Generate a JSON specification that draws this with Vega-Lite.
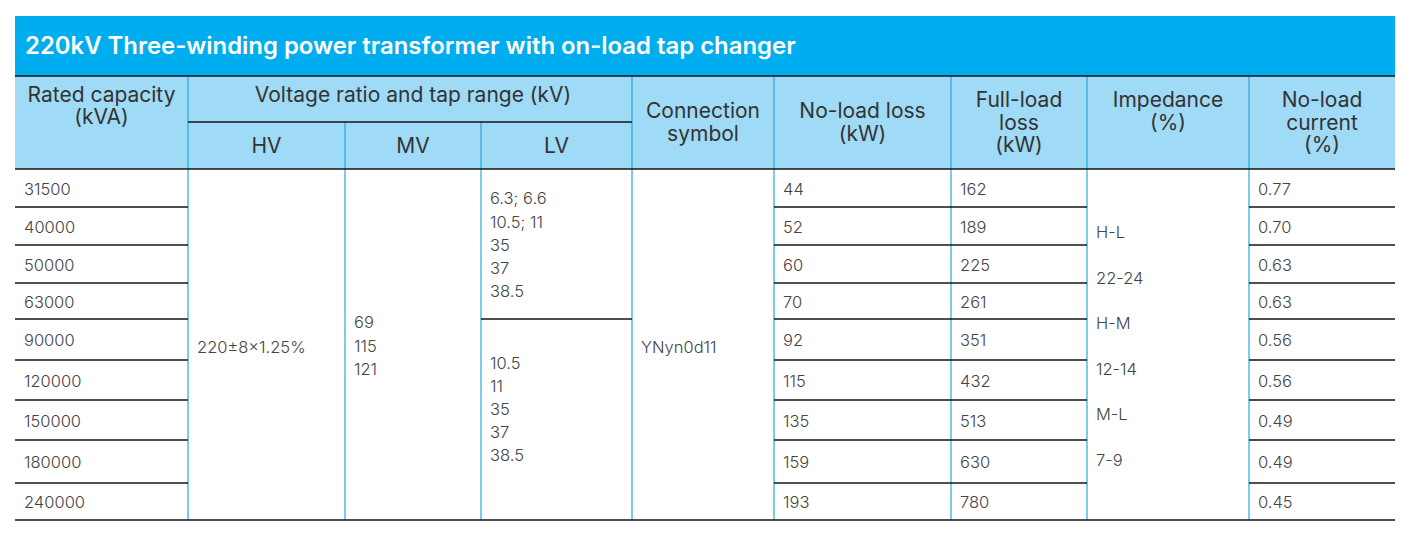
{
  "$schema": "https://vega.github.io/schema/vega-lite/v6.json",
  "width": 1417,
  "height": 538,
  "padding": 0,
  "autosize": {"type": "none"},
  "background": "white",
  "config": {"view": {"stroke": null}},
  "datasets": {
    "fills": [
      {"c0": 0, "c1": 9, "r0": -3, "r1": -2, "kind": "title"},
      {"c0": 0, "c1": 9, "r0": -2, "r1": 0, "kind": "header"}
    ],
    "vlines": [
      {"c": 1, "r0": -2, "r1": 9},
      {"c": 2, "r0": -1, "r1": 9},
      {"c": 3, "r0": -1, "r1": 9},
      {"c": 4, "r0": -2, "r1": 9},
      {"c": 5, "r0": -2, "r1": 9},
      {"c": 6, "r0": -2, "r1": 9},
      {"c": 7, "r0": -2, "r1": 9},
      {"c": 8, "r0": -2, "r1": 9}
    ],
    "hlines": [
      {"r": -2, "c0": 0, "c1": 9},
      {"r": -1, "c0": 1, "c1": 4},
      {"r": 0, "c0": 0, "c1": 9},
      {"r": 9, "c0": 0, "c1": 9},
      {"r": 4, "c0": 3, "c1": 4},
      {"r": 1, "c0": 0, "c1": 1}, {"r": 2, "c0": 0, "c1": 1}, {"r": 3, "c0": 0, "c1": 1}, {"r": 4, "c0": 0, "c1": 1},
      {"r": 5, "c0": 0, "c1": 1}, {"r": 6, "c0": 0, "c1": 1}, {"r": 7, "c0": 0, "c1": 1}, {"r": 8, "c0": 0, "c1": 1},
      {"r": 1, "c0": 5, "c1": 7}, {"r": 2, "c0": 5, "c1": 7}, {"r": 3, "c0": 5, "c1": 7}, {"r": 4, "c0": 5, "c1": 7},
      {"r": 5, "c0": 5, "c1": 7}, {"r": 6, "c0": 5, "c1": 7}, {"r": 7, "c0": 5, "c1": 7}, {"r": 8, "c0": 5, "c1": 7},
      {"r": 1, "c0": 8, "c1": 9}, {"r": 2, "c0": 8, "c1": 9}, {"r": 3, "c0": 8, "c1": 9}, {"r": 4, "c0": 8, "c1": 9},
      {"r": 5, "c0": 8, "c1": 9}, {"r": 6, "c0": 8, "c1": 9}, {"r": 7, "c0": 8, "c1": 9}, {"r": 8, "c0": 8, "c1": 9}
    ],
    "title": [
      {"c": 0, "r": -2.5, "t": "220kV Three-winding power transformer with on-load tap changer"}
    ],
    "header": [
      {"c": 0.5, "r": -1.6, "t": "Rated capacity\n(kVA)"},
      {"c": 2.5, "r": -1.6, "t": "Voltage ratio and tap range (kV)"},
      {"c": 1.5, "r": -0.5, "t": "HV"},
      {"c": 2.5, "r": -0.5, "t": "MV"},
      {"c": 3.5, "r": -0.5, "t": "LV"},
      {"c": 4.5, "r": -1.24, "t": "Connection\nsymbol"},
      {"c": 5.5, "r": -1.24, "t": "No-load loss\n(kW)"},
      {"c": 6.5, "r": -1.48, "t": "Full-load\nloss\n(kW)"},
      {"c": 7.5, "r": -1.48, "t": "Impedance\n(%)"},
      {"c": 8.5, "r": -1.48, "t": "No-load\ncurrent\n(%)"}
    ],
    "body": [
      {"c": 0, "r": 0.5, "t": "31500"},
      {"c": 0, "r": 1.5, "t": "40000"},
      {"c": 0, "r": 2.5, "t": "50000"},
      {"c": 0, "r": 3.5, "t": "63000"},
      {"c": 0, "r": 4.5, "t": "90000"},
      {"c": 0, "r": 5.5, "t": "120000"},
      {"c": 0, "r": 6.5, "t": "150000"},
      {"c": 0, "r": 7.5, "t": "180000"},
      {"c": 0, "r": 8.5, "t": "240000"},
      {"c": 1, "r": 4.66, "t": "220±8×1.25%"},
      {"c": 2, "r": 4.07, "t": "69\n115\n121"},
      {"c": 3, "r": 0.76, "t": "6.3; 6.6\n10.5; 11\n35\n37\n38.5"},
      {"c": 3, "r": 5.05, "t": "10.5\n11\n35\n37\n38.5"},
      {"c": 4, "r": 4.66, "t": "YNyn0d11"},
      {"c": 5, "r": 0.5, "t": "44"},
      {"c": 5, "r": 1.5, "t": "52"},
      {"c": 5, "r": 2.5, "t": "60"},
      {"c": 5, "r": 3.5, "t": "70"},
      {"c": 5, "r": 4.5, "t": "92"},
      {"c": 5, "r": 5.5, "t": "115"},
      {"c": 5, "r": 6.5, "t": "135"},
      {"c": 5, "r": 7.5, "t": "159"},
      {"c": 5, "r": 8.5, "t": "193"},
      {"c": 6, "r": 0.5, "t": "162"},
      {"c": 6, "r": 1.5, "t": "189"},
      {"c": 6, "r": 2.5, "t": "225"},
      {"c": 6, "r": 3.5, "t": "261"},
      {"c": 6, "r": 4.5, "t": "351"},
      {"c": 6, "r": 5.5, "t": "432"},
      {"c": 6, "r": 6.5, "t": "513"},
      {"c": 6, "r": 7.5, "t": "630"},
      {"c": 6, "r": 8.5, "t": "780"},
      {"c": 8, "r": 0.5, "t": "0.77"},
      {"c": 8, "r": 1.5, "t": "0.70"},
      {"c": 8, "r": 2.5, "t": "0.63"},
      {"c": 8, "r": 3.5, "t": "0.63"},
      {"c": 8, "r": 4.5, "t": "0.56"},
      {"c": 8, "r": 5.5, "t": "0.56"},
      {"c": 8, "r": 6.5, "t": "0.49"},
      {"c": 8, "r": 7.5, "t": "0.49"},
      {"c": 8, "r": 8.5, "t": "0.45"}
    ],
    "impedance": [
      {"c": 7, "r": 1.65, "t": "H-L\n22-24\nH-M\n12-14\nM-L\n7-9"}
    ]
  },
  "layer": [
    {
      "data": {"name": "fills"},
      "mark": {"type": "rect"},
      "encoding": {
        "x": {"field": "c0", "type": "quantitative", "axis": null, "scale": {"type": "linear", "domain": [0,1,2,3,4,5,6,7,8,9], "range": [15,188,345,481,632,774,951,1087,1249,1395], "zero": false, "nice": false}},
        "x2": {"field": "c1"},
        "y": {"field": "r0", "type": "quantitative", "axis": null, "scale": {"type": "linear", "domain": [-3,-2,-1,0,1,2,3,4,5,6,7,8,9], "range": [16,76,122,169,207,245,283,319,360,400,440,483,520], "zero": false, "nice": false}},
        "y2": {"field": "r1"},
        "color": {"field": "kind", "type": "nominal", "legend": null, "scale": {"domain": ["title", "header"], "range": ["#00adee", "#9fdaf6"]}}
      }
    },
    {
      "data": {"name": "vlines"},
      "mark": {"type": "rule", "color": "#22a8df", "strokeWidth": 1.2},
      "encoding": {
        "x": {"field": "c", "type": "quantitative", "axis": null, "scale": {"type": "linear", "domain": [0,1,2,3,4,5,6,7,8,9], "range": [15,188,345,481,632,774,951,1087,1249,1395], "zero": false, "nice": false}},
        "y": {"field": "r0", "type": "quantitative", "axis": null, "scale": {"type": "linear", "domain": [-3,-2,-1,0,1,2,3,4,5,6,7,8,9], "range": [16,76,122,169,207,245,283,319,360,400,440,483,520], "zero": false, "nice": false}},
        "y2": {"field": "r1"}
      }
    },
    {
      "data": {"name": "hlines"},
      "mark": {"type": "rule", "color": "#151515", "strokeWidth": 1.5},
      "encoding": {
        "x": {"field": "c0", "type": "quantitative", "axis": null, "scale": {"type": "linear", "domain": [0,1,2,3,4,5,6,7,8,9], "range": [15,188,345,481,632,774,951,1087,1249,1395], "zero": false, "nice": false}},
        "x2": {"field": "c1"},
        "y": {"field": "r", "type": "quantitative", "axis": null, "scale": {"type": "linear", "domain": [-3,-2,-1,0,1,2,3,4,5,6,7,8,9], "range": [16,76,122,169,207,245,283,319,360,400,440,483,520], "zero": false, "nice": false}}
      }
    },
    {
      "data": {"name": "title"},
      "mark": {"type": "text", "align": "left", "baseline": "middle", "dx": 10, "dy": 1, "font": "Inter", "fontSize": 23.9, "fontWeight": 600, "color": "white"},
      "encoding": {
        "x": {"field": "c", "type": "quantitative", "axis": null, "scale": {"type": "linear", "domain": [0,1,2,3,4,5,6,7,8,9], "range": [15,188,345,481,632,774,951,1087,1249,1395], "zero": false, "nice": false}},
        "y": {"field": "r", "type": "quantitative", "axis": null, "scale": {"type": "linear", "domain": [-3,-2,-1,0,1,2,3,4,5,6,7,8,9], "range": [16,76,122,169,207,245,283,319,360,400,440,483,520], "zero": false, "nice": false}},
        "text": {"field": "t"}
      }
    },
    {
      "data": {"name": "header"},
      "mark": {"type": "text", "align": "center", "baseline": "middle", "dy": 1.5, "font": "Inter", "fontSize": 21, "color": "#333333", "lineBreak": "\n", "lineHeight": 22.5},
      "encoding": {
        "x": {"field": "c", "type": "quantitative", "axis": null, "scale": {"type": "linear", "domain": [0,1,2,3,4,5,6,7,8,9], "range": [15,188,345,481,632,774,951,1087,1249,1395], "zero": false, "nice": false}},
        "y": {"field": "r", "type": "quantitative", "axis": null, "scale": {"type": "linear", "domain": [-3,-2,-1,0,1,2,3,4,5,6,7,8,9], "range": [16,76,122,169,207,245,283,319,360,400,440,483,520], "zero": false, "nice": false}},
        "text": {"field": "t"}
      }
    },
    {
      "data": {"name": "body"},
      "mark": {"type": "text", "align": "left", "baseline": "middle", "dx": 9, "dy": 1.5, "font": "Inter", "fontSize": 16.5, "fontWeight": 300, "color": "#444444", "lineBreak": "\n", "lineHeight": 23.2},
      "encoding": {
        "x": {"field": "c", "type": "quantitative", "axis": null, "scale": {"type": "linear", "domain": [0,1,2,3,4,5,6,7,8,9], "range": [15,188,345,481,632,774,951,1087,1249,1395], "zero": false, "nice": false}},
        "y": {"field": "r", "type": "quantitative", "axis": null, "scale": {"type": "linear", "domain": [-3,-2,-1,0,1,2,3,4,5,6,7,8,9], "range": [16,76,122,169,207,245,283,319,360,400,440,483,520], "zero": false, "nice": false}},
        "text": {"field": "t"}
      }
    },
    {
      "data": {"name": "impedance"},
      "mark": {"type": "text", "align": "left", "baseline": "middle", "dx": 9, "dy": 1.5, "font": "Inter", "fontSize": 16.5, "fontWeight": 300, "color": "#444444", "lineBreak": "\n", "lineHeight": 45.5},
      "encoding": {
        "x": {"field": "c", "type": "quantitative", "axis": null, "scale": {"type": "linear", "domain": [0,1,2,3,4,5,6,7,8,9], "range": [15,188,345,481,632,774,951,1087,1249,1395], "zero": false, "nice": false}},
        "y": {"field": "r", "type": "quantitative", "axis": null, "scale": {"type": "linear", "domain": [-3,-2,-1,0,1,2,3,4,5,6,7,8,9], "range": [16,76,122,169,207,245,283,319,360,400,440,483,520], "zero": false, "nice": false}},
        "text": {"field": "t"}
      }
    }
  ]
}
